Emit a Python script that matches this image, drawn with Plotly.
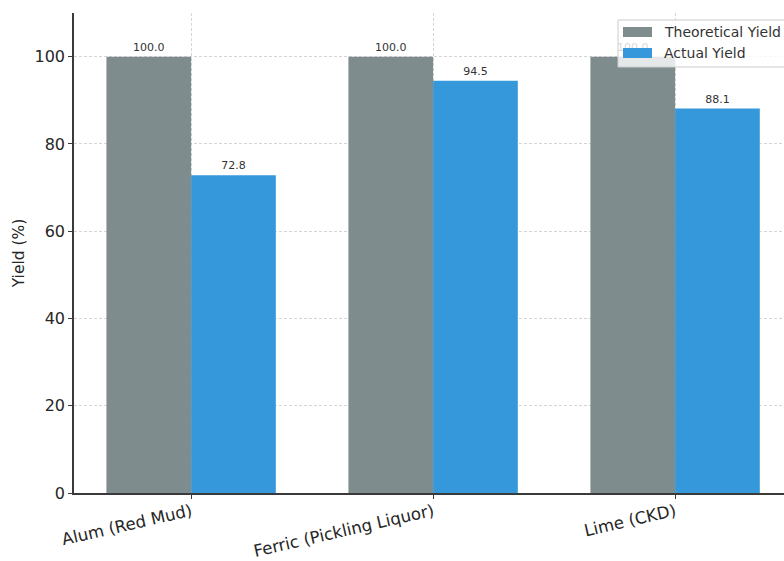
import plotly.graph_objects as go

categories = ["Alum (Red Mud)", "Ferric (Pickling Liquor)", "Lime (CKD)"]
theoretical_yield = [100.0, 100.0, 100.0]
actual_yield = [72.8, 94.5, 88.1]
y_ticks = [0, 20, 40, 60, 80, 100]
series_names = ["Theoretical Yield", "Actual Yield"]
series_colors = ["#7f8c8d", "#3498db"]

positions = list(range(len(categories)))
bar_w = 0.35
font = "DejaVu Sans"

W, H = 784, 561
M_L, M_R, M_T, M_B = 74, 0, 13, 68
plot_w = W - M_L - M_R
plot_h = H - M_T - M_B


def px_x(px):
    """Pixel column -> paper x."""
    return (px - M_L) / plot_w


def px_y(py):
    """Pixel row -> paper y."""
    return (H - M_B - py) / plot_h


fig = go.Figure()
for offset, vals, name, color in [(-bar_w / 2, theoretical_yield, series_names[0], series_colors[0]),
                                  (bar_w / 2, actual_yield, series_names[1], series_colors[1])]:
    fig.add_trace(go.Bar(
        x=[p + offset for p in positions], y=vals, width=bar_w,
        name=name, marker=dict(color=color, line=dict(width=0)),
        text=[f"{v:.1f}" for v in vals], textposition="outside",
        textfont=dict(family=font, size=11, color="#333333"), cliponaxis=False,
        showlegend=False,
    ))

grid = dict(showgrid=True, gridcolor="rgba(150,150,150,0.4)", griddash="3px,2px", gridwidth=0.8)
axis_line = dict(showline=True, linecolor="#3a3a3a", linewidth=1.5,
                 ticks="outside", ticklen=4, tickwidth=1.2, tickcolor="#3a3a3a",
                 zeroline=False, layer="above traces", automargin=False)

# Legend box in the upper right, running past the right edge of the figure
shapes = [dict(type="rect", xref="paper", yref="paper",
               x0=px_x(618), x1=px_x(812), y0=px_y(67), y1=px_y(20),
               fillcolor="rgba(255,255,255,0.8)", line=dict(color="#cccccc", width=1), layer="above")]
annotations = []
for i, (name, color) in enumerate(zip(series_names, series_colors)):
    top = 27 + i * 21
    shapes.append(dict(type="rect", xref="paper", yref="paper",
                       x0=px_x(623), x1=px_x(652), y0=px_y(top + 10), y1=px_y(top),
                       fillcolor=color, line=dict(width=0), layer="above"))
    annotations.append(dict(xref="paper", yref="paper", x=px_x(662), y=px_y(top + 5),
                            xanchor="left", yanchor="middle", showarrow=False, text=name,
                            font=dict(family=font, size=14, color="#333333")))

fig.update_layout(
    width=W, height=H,
    margin=dict(l=M_L, r=M_R, t=M_T, b=M_B, autoexpand=False),
    paper_bgcolor="white", plot_bgcolor="white",
    font=dict(family=font, color="#262626"),
    barmode="overlay",
    showlegend=False,
    shapes=shapes,
    annotations=annotations,
    xaxis=dict(
        range=[-0.484, 2.45], tickvals=positions, ticktext=categories,
        tickangle=-13, tickfont=dict(family=font, size=16.6, color="#262626"),
        ticklabelstandoff=-3,
        **grid, **axis_line,
    ),
    yaxis=dict(
        range=[0, 110], tickvals=y_ticks,
        tickfont=dict(family=font, size=16, color="#262626"),
        title=dict(text="Yield (%)", font=dict(family=font, size=15.5, color="#262626"), standoff=6),
        **grid, **axis_line,
    ),
)

fig.write_html("out.html")
